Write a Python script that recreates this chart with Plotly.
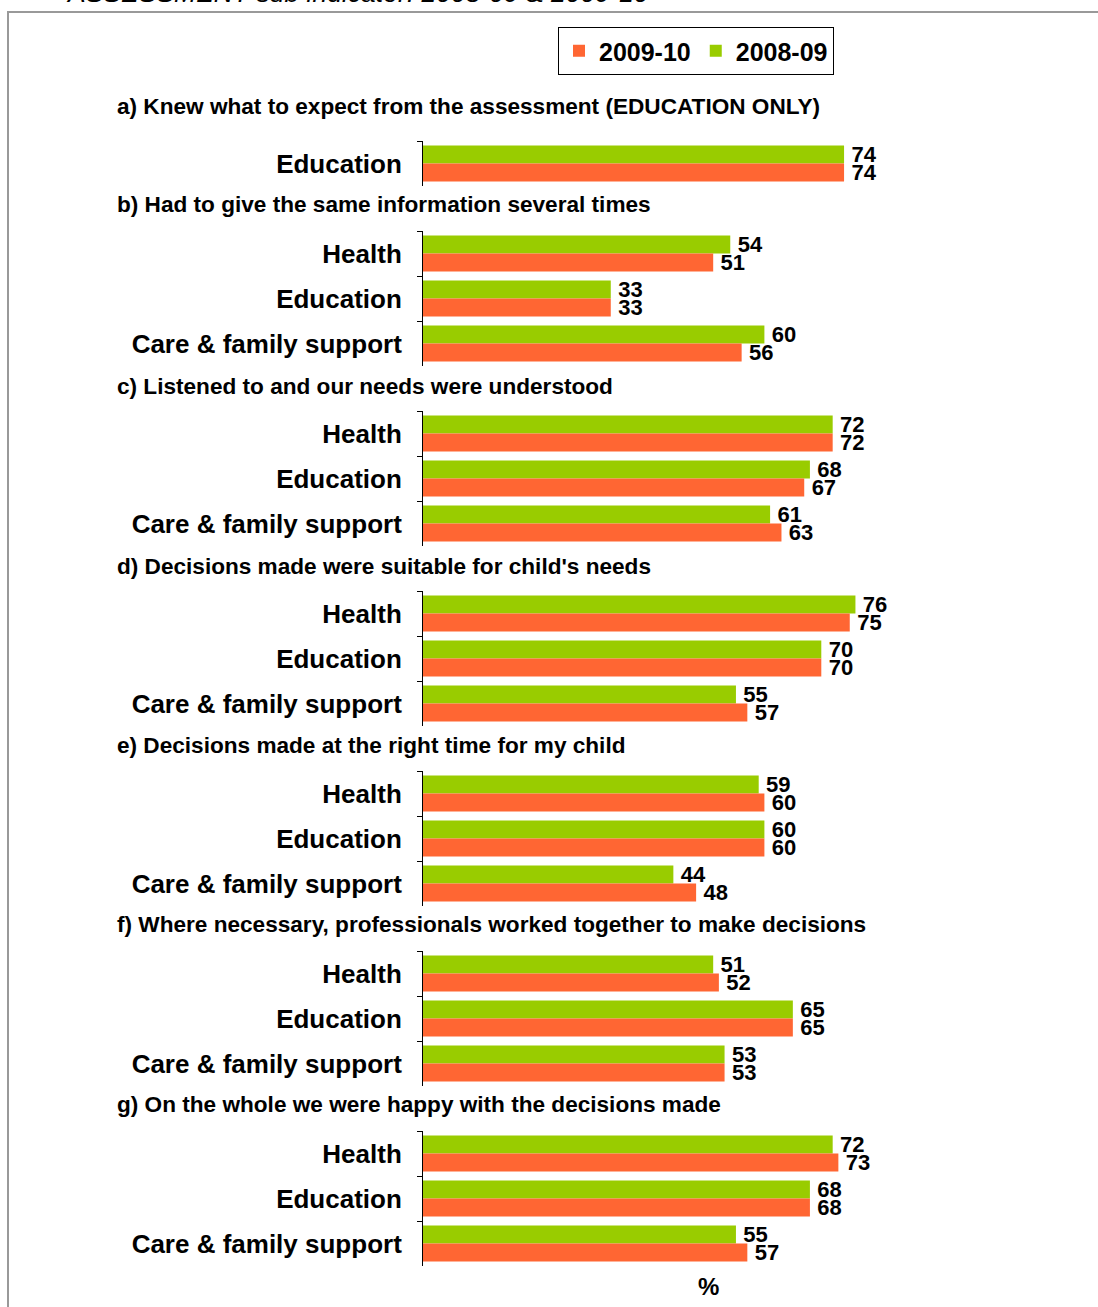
import plotly.graph_objects as go
from plotly.subplots import make_subplots

# ---- data ----
headings = [
    "a) Knew what to expect from the assessment (EDUCATION ONLY)",
    "b) Had to give the same information several times",
    "c) Listened to and our needs were understood",
    "d) Decisions made were suitable for child's needs",
    "e) Decisions made at the right time for my child",
    "f) Where necessary, professionals worked together to make decisions",
    "g) On the whole we were happy with the decisions made",
]
cats_a = ["Education"]
cats_std = ["Health", "Education", "Care & family support"]
categories = [cats_a] + [cats_std] * 6

v2008_09 = [
    [74],
    [54, 33, 60],
    [72, 68, 61],
    [76, 70, 55],
    [59, 60, 44],
    [51, 65, 53],
    [72, 68, 55],
]
v2009_10 = [
    [74],
    [51, 33, 56],
    [72, 67, 63],
    [75, 70, 57],
    [60, 60, 48],
    [52, 65, 53],
    [73, 68, 57],
]
series_names = ["2008-09", "2009-10"]
title_text = "ASSESSMENT sub indicator: 2008-09 & 2009-10"
GREEN = "#99CC00"
ORANGE = "#FF6633"

W, H = 1098, 1307
FONT = "Arial, 'Liberation Sans', sans-serif"

def py(px):
    return 1 - px / H

# pixel extents of each panel (top, bottom)
panels = [(141, 186), (231, 366), (411, 546), (591, 726), (771, 906), (951, 1086), (1131, 1266)]
heading_y = [106, 205, 386, 566, 745, 924, 1104]
x_dom = [423 / W, 992 / W]

fig = make_subplots(rows=7, cols=1)

for i in range(7):
    r = i + 1
    fig.add_trace(go.Bar(
        y=categories[i], x=v2008_09[i], orientation="h", name=series_names[0],
        marker=dict(color=GREEN, line=dict(width=0)),
        texttemplate="\u2009%{x}", textposition="outside", cliponaxis=False,
        constraintext="none",
        textfont=dict(family=FONT, size=22, color="black", weight="bold"),
        showlegend=(i == 0), legendgroup="g08",
    ), row=r, col=1)
    fig.add_trace(go.Bar(
        y=categories[i], x=v2009_10[i], orientation="h", name=series_names[1],
        marker=dict(color=ORANGE, line=dict(width=0)),
        texttemplate="\u2009%{x}", textposition="outside", cliponaxis=False,
        constraintext="none",
        textfont=dict(family=FONT, size=22, color="black", weight="bold"),
        showlegend=(i == 0), legendgroup="g09",
    ), row=r, col=1)

    xa = "xaxis" if r == 1 else f"xaxis{r}"
    ya = "yaxis" if r == 1 else f"yaxis{r}"
    t, b = panels[i]
    fig.layout[xa].update(domain=x_dom, range=[0, 100], showgrid=False, zeroline=False,
                          showline=False, showticklabels=False, ticks="")
    fig.layout[ya].update(domain=[py(b), py(t)], autorange="reversed", type="category",
                          showgrid=False, zeroline=False, showline=True, linecolor="black",
                          linewidth=1, ticks="outside", ticklen=5, tickcolor="black",
                          tickson="boundaries", ticklabelstandoff=15,
                          tickfont=dict(family=FONT, size=26, color="black", weight="bold"))

annotations = []
for i, h in enumerate(headings):
    annotations.append(dict(
        x=115 / W, y=py(heading_y[i]), xref="paper", yref="paper",
        xanchor="left", yanchor="middle", showarrow=False,
        text=f"<b>{h}</b>", font=dict(family=FONT, size=22.6, color="black"),
    ))
annotations.append(dict(
    x=708 / W, y=py(1286), xref="paper", yref="paper", xanchor="center", yanchor="middle",
    showarrow=False, text="<b>%</b>", font=dict(family=FONT, size=24, color="black"),
))
annotations.append(dict(
    x=64 / W, y=py(10), xref="paper", yref="paper", xanchor="left", yanchor="bottom",
    showarrow=False, text=f"<i>{title_text}</i>",
    font=dict(family=FONT, size=26.5, color="black"),
))

shapes = [dict(type="rect", xref="paper", yref="paper",
               x0=8 / W, x1=1.02, y0=-0.02, y1=py(12),
               line=dict(color="#999999", width=2), fillcolor="rgba(0,0,0,0)", layer="below")]

fig.update_layout(
    width=W, height=H,
    margin=dict(l=0, r=0, t=0, b=0),
    paper_bgcolor="white", plot_bgcolor="white",
    barmode="group", bargap=0.2, bargroupgap=0,
    font=dict(family=FONT, color="black"),
    legend=dict(
        orientation="h", x=696 / W, xanchor="center", y=py(27), yanchor="top",
        traceorder="reversed", bordercolor="black", borderwidth=1, bgcolor="white",
        font=dict(family=FONT, size=25, color="black", weight="bold"),
        itemwidth=30, tracegroupgap=0,
    ),
    annotations=annotations,
    shapes=shapes,
)

fig.write_html(
    "out.html",
    config={"displayModeBar": False},
    post_script="document.body.style.margin='0';document.body.style.overflow='hidden';",
)
